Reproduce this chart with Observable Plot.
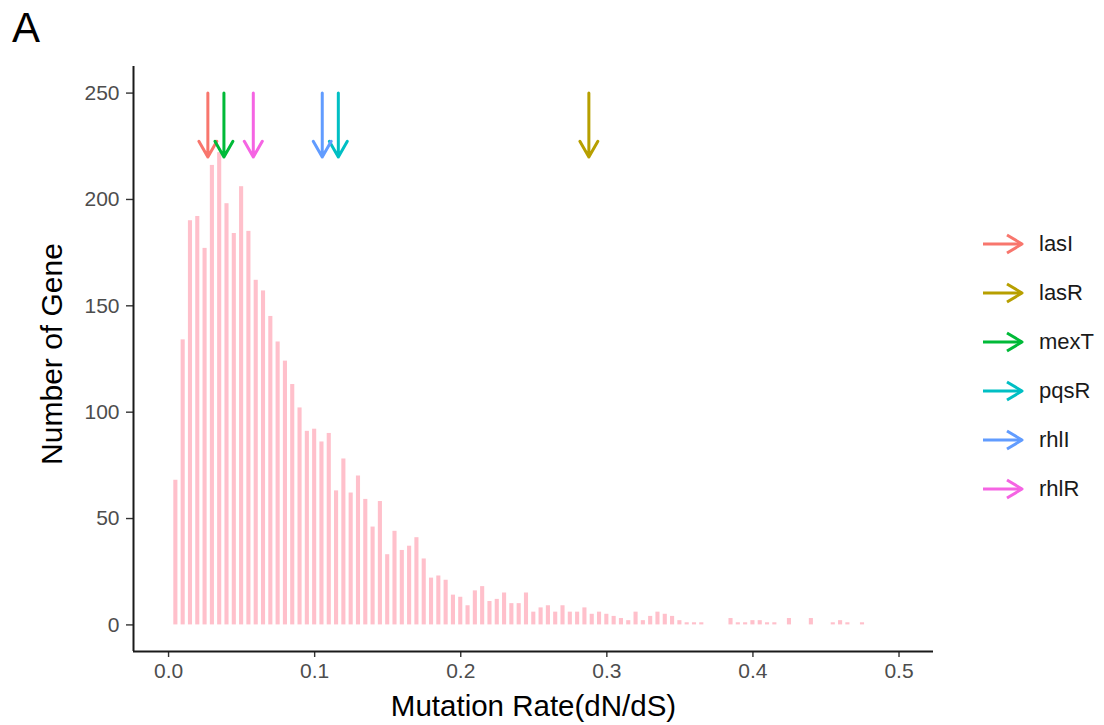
<!DOCTYPE html>
<html>
<head>
<meta charset="utf-8">
<script src="https://cdn.jsdelivr.net/npm/d3@7"></script>
<script src="https://cdn.jsdelivr.net/npm/@observablehq/plot@0.6"></script>
<style>
  body { margin: 0; background: #fff; font-family: "Liberation Sans", Arial, sans-serif; }
  #wrap { position: relative; width: 1104px; height: 725px; overflow: hidden; }
  #tag { position: absolute; left: 12px; top: 3px; font-size: 42px; line-height: 50px; color: #000; }
  #legend { position: absolute; left: 980px; top: 219px; }
  .row { height: 49px; display: flex; align-items: center; }
  .row svg { display: block; margin-right: 13px; }
  .row span { font-size: 22px; color: #1a1a1a; }
</style>
</head>
<body>
<div id="wrap">
  <div id="chart"></div>
  <div id="tag">A</div>
  <div id="legend"></div>
</div>
<script>
// Histogram counts, bins of width 0.005 centred at 0.005, 0.010, ... 0.475
const binWidth = 0.005;
const firstBinCenter = 0.005;
const counts = [
  68, 134, 190, 192, 177, 216, 222, 198, 184, 206,
  185, 162, 157, 145, 133, 124, 113, 102, 91, 92,
  86, 90, 63, 78, 62, 70, 59, 46, 58, 33,
  44, 35, 37, 41, 31, 22, 23, 21, 14, 13,
  9, 16, 18, 11, 12, 15, 10, 10, 15, 6,
  8, 9, 6, 9, 6, 6, 8, 5, 6, 5,
  4, 3, 2, 6, 2, 4, 6, 5, 4, 2,
  1, 1, 1, 0, 0, 0, 3, 1, 1, 2,
  2, 1, 1, 0, 3, 0, 0, 3, 0, 0,
  1, 2, 1, 0, 1
];

// Genes marked with arrows
const genes = ["lasI", "lasR", "mexT", "pqsR", "rhlI", "rhlR"];
const geneRates = [0.0269, 0.2877, 0.0379, 0.1162, 0.1052, 0.0580];
const geneColors = ["#F8766D", "#B79F00", "#00BA38", "#00BFC4", "#619CFF", "#F564E3"];
const arrowTop = 250;
const arrowTip = 220;

const xTicks = [0, 0.1, 0.2, 0.3, 0.4, 0.5];
const yTicks = [0, 50, 100, 150, 200, 250];

const xDomain = [-0.024, 0.5236];
const yDomain = [-12.5, 262.5];

const bins = counts.map((c, i) => {
  const center = firstBinCenter + i * binWidth;
  return { x1: center - binWidth / 2, x2: center + binWidth / 2, count: c };
});
const arrows = genes.map((g, i) => ({ gene: g, rate: geneRates[i] }));

const font = "'Liberation Sans', Arial, sans-serif";

const chart = Plot.plot({
  width: 1104,
  height: 725,
  marginLeft: 133,
  marginRight: 171,
  marginTop: 66,
  marginBottom: 74,
  style: { fontFamily: font, background: "white", overflow: "visible" },
  x: { domain: xDomain },
  y: { domain: yDomain },
  color: { domain: genes, range: geneColors },
  marks: [
    Plot.rectY(bins, { x1: "x1", x2: "x2", y: "count", fill: "pink", insetLeft: 1.6, insetRight: 1.6 }),
    Plot.arrow(arrows, {
      x1: "rate", x2: "rate", y1: () => arrowTop, y2: () => arrowTip,
      stroke: "gene", strokeWidth: 3, headLength: 9, headAngle: 60
    }),
    Plot.axisX({
      ticks: xTicks, tickFormat: d3.format(".1f"), tickSize: 6, tickPadding: 6,
      fontSize: 21, fill: "#4d4d4d", stroke: "#333", strokeWidth: 1.4, label: null
    }),
    Plot.axisY({
      ticks: yTicks, tickSize: 7, tickPadding: 7,
      fontSize: 21, fill: "#4d4d4d", stroke: "#333", strokeWidth: 1.4, label: null
    }),
    Plot.ruleX([xDomain[0]], { stroke: "#1a1a1a", strokeWidth: 2 }),
    Plot.ruleY([yDomain[0]], { stroke: "#1a1a1a", strokeWidth: 2 }),
    Plot.text(["Mutation Rate(dN/dS)"], {
      frameAnchor: "bottom", dy: 55, fontSize: 29.5, fill: "#000", lineAnchor: "middle", textAnchor: "middle"
    }),
    Plot.text(["Number of Gene"], {
      frameAnchor: "left", rotate: -90, dx: -81, dy: -5, fontSize: 30, fill: "#000",
      lineAnchor: "middle", textAnchor: "middle"
    })
  ]
});
document.getElementById("chart").appendChild(chart);

// Legend
const legend = document.getElementById("legend");
genes.forEach((g, i) => {
  const row = document.createElement("div");
  row.className = "row";
  const c = geneColors[i];
  row.innerHTML =
    `<svg width="46" height="24" viewBox="0 0 46 24">
       <line x1="3" y1="12" x2="42" y2="12" stroke="${c}" stroke-width="3"/>
       <polyline points="27,3 42,12 27,21" fill="none" stroke="${c}" stroke-width="3" stroke-linejoin="round"/>
     </svg><span>${g}</span>`;
  legend.appendChild(row);
});
</script>
</body>
</html>
